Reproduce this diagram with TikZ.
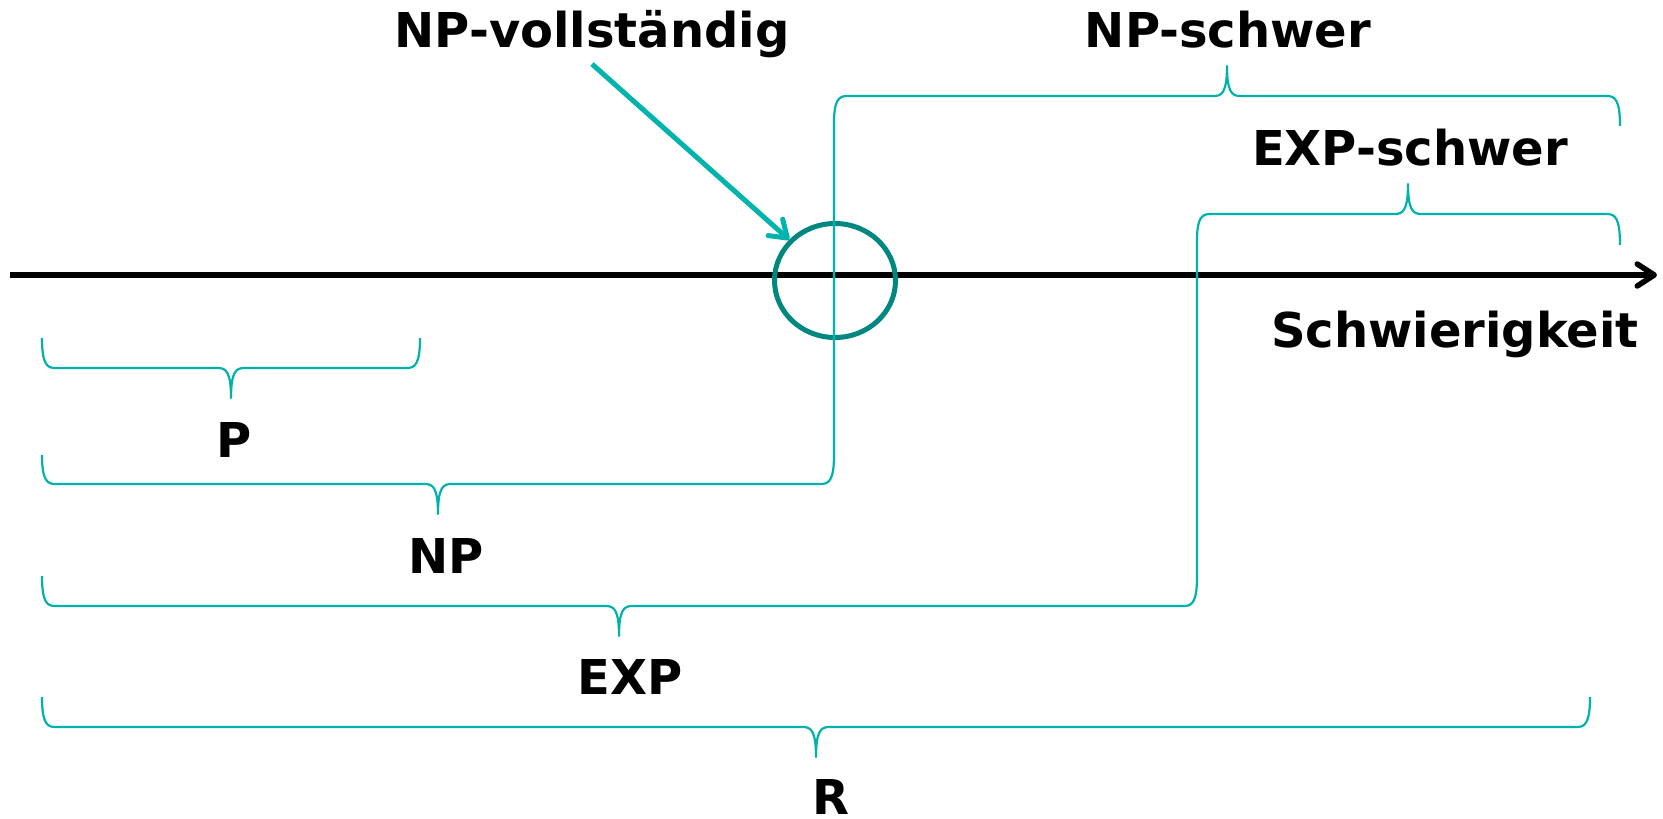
\documentclass[tikz,border=0pt]{standalone}
\usepackage{fontspec}
\setmainfont{DejaVu Sans}
\usetikzlibrary{arrows.meta,shapes.geometric}
\definecolor{bracecol}{HTML}{00B2AA}
\definecolor{circcol}{HTML}{00877F}
\definecolor{arrcol}{HTML}{00B4AC}
\tikzset{
  lbl/.style={anchor=base, inner sep=0pt, font=\fontsize{48pt}{58pt}\selectfont\bfseries, text=black},
  bracepath/.style={draw=bracecol, line width=2.2pt, line join=round},
  axisline/.style={draw=black, line width=5.5pt, -{Straight Barb[length=17pt,width=22pt,round]}},
  npvarrow/.style={draw=arrcol, line width=5pt, -{Straight Barb[length=16pt,width=22pt,round]}},
  ring/.style={ellipse, draw=circcol, line width=5pt, minimum width=121pt, minimum height=114pt, inner sep=0pt},
  tipd/.style args={#1/#2}{insert path={-- (#1-13,#2) .. controls (#1-5,#2) and (#1,#2+4) .. (#1,#2+30) .. controls (#1,#2+4) and (#1+5,#2) .. (#1+13,#2)}},
  tipu/.style args={#1/#2}{insert path={-- (#1-13,#2) .. controls (#1-5,#2) and (#1,#2-4) .. (#1,#2-30) .. controls (#1,#2-4) and (#1+5,#2) .. (#1+13,#2)}}
}
\begin{document}
\begin{tikzpicture}[x=1pt,y=-1pt]
\useasboundingbox (0,0) rectangle (1663,819);
% axis
\coordinate (axL) at (10,275);
\coordinate (axR) at (1657,275);
\draw[axisline] (axL) -- (axR);
% circle
\node[ring] (nc) at (835,280.5) {};
% labels
\node[lbl] (npv) at (592,47) {NP-vollständig};
\node[lbl] (nps) at (1228,47) {NP-schwer};
\node[lbl] (exps) at (1410,165) {EXP-schwer};
\node[lbl] (schw) at (1455,347) {Schwierigkeit};
\node[lbl] (p) at (234,457) {P};
\node[lbl] (np) at (446,573) {NP};
\node[lbl] (exp) at (630,694) {EXP};
\node[lbl] (r) at (831,814) {R};
% braces
\draw[bracepath] (42,338) .. controls (42,364) and (47,368) .. (55,368) [tipd=231/368] -- (407,368) .. controls (415,368) and (420,364) .. (420,338);
\draw[bracepath] (42,455) .. controls (42,480) and (47,484) .. (55,484) [tipd=438/484] -- (821,484) .. controls (829,484) and (834,480) .. (834,455) -- (834,123) .. controls (834,100) and (839,96) .. (847,96) [tipu=1227/96] -- (1607,96) .. controls (1615,96) and (1620,100) .. (1620,126);
\draw[bracepath] (42,576) .. controls (42,602) and (47,606) .. (55,606) [tipd=619/606] -- (1184,606) .. controls (1192,606) and (1197,602) .. (1197,577) -- (1197,240) .. controls (1197,218) and (1202,214) .. (1210,214) [tipu=1408/214] -- (1607,214) .. controls (1615,214) and (1620,218) .. (1620,245);
\draw[bracepath] (42,697) .. controls (42,723) and (47,727) .. (55,727) [tipd=816/727] -- (1577,727) .. controls (1585,727) and (1590,723) .. (1590,697);
% arrow
\coordinate (npvfoot) at ([yshift=-6.5pt]npv.south);
\draw[npvarrow] (npvfoot) -- (nc);
\end{tikzpicture}
\end{document}
